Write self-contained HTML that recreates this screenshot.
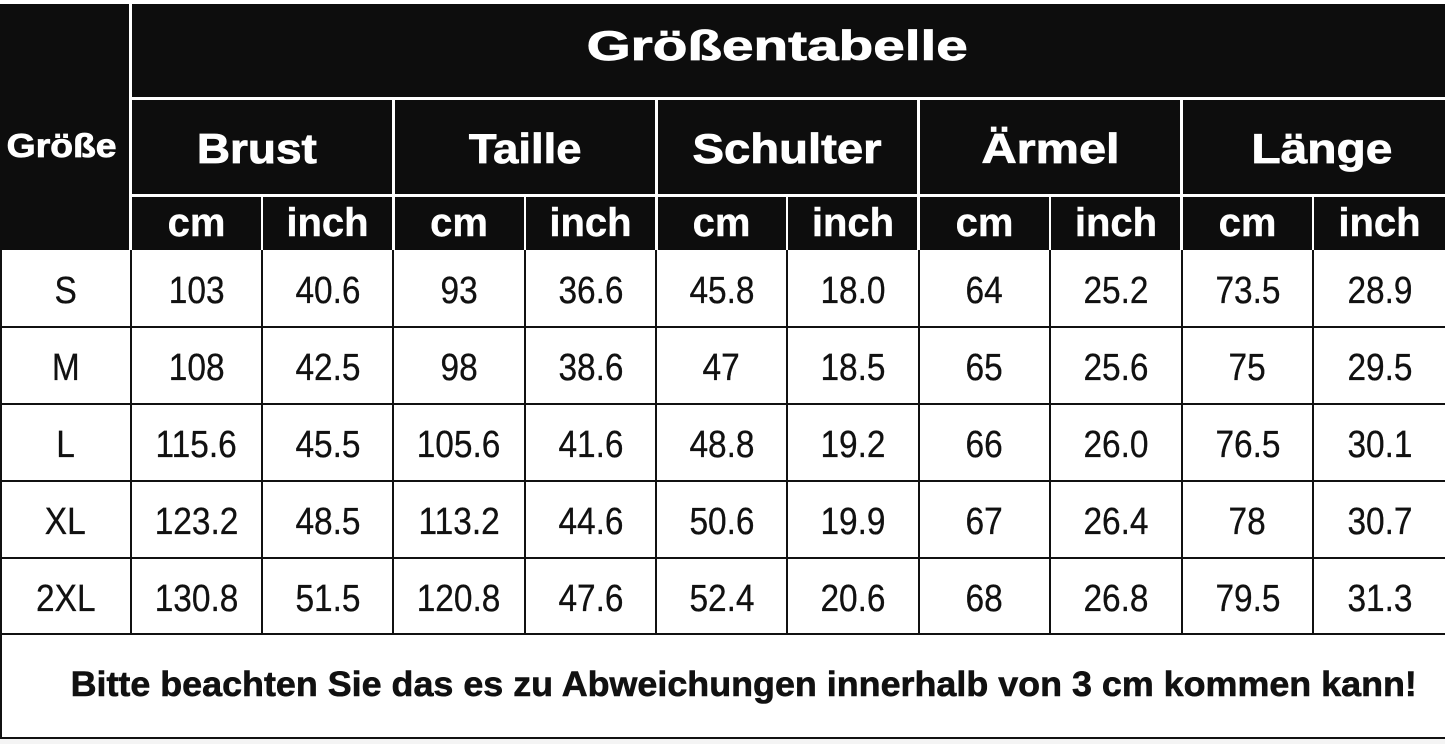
<!DOCTYPE html>
<html>
<head>
<meta charset="utf-8">
<style>
html,body{margin:0;padding:0;}
body{width:1445px;height:744px;position:relative;overflow:hidden;background:#fff;font-family:"Liberation Sans",Arial,sans-serif;}
.a{position:absolute;}
.blk{background:#0d0d0d;}
.wl{background:#fff;}
.bl{background:#111;}
.h{position:absolute;color:#fff;font-weight:bold;text-align:center;white-space:nowrap;-webkit-text-stroke:0.8px #fff;}
.h span{display:inline-block;}
.d{position:absolute;color:#111;font-size:38px;line-height:38px;height:38px;text-align:center;white-space:nowrap;-webkit-text-stroke:0.3px #111;}
.d span{display:inline-block;transform:scaleX(0.88);}
.u{position:absolute;color:#fff;font-weight:bold;font-size:40px;line-height:40px;height:40px;text-align:center;top:203px;white-space:nowrap;-webkit-text-stroke:0.4px #fff;}
.r0{top:272px}.r1{top:349px}.r2{top:426px}.r3{top:503px}.r4{top:580px}
.c0{left:1px;width:129px}.c1{left:132px;width:129px}.c2{left:263px;width:129px}.c3{left:394px;width:130px}.c4{left:526px;width:129px}.c5{left:657px;width:129px}.c6{left:788px;width:130px}.c7{left:920px;width:129px}.c8{left:1051px;width:130px}.c9{left:1183px;width:129px}.c10{left:1314px;width:131px}
</style>
</head>
<body>
<!-- header black block -->
<div class="a blk" style="left:0;top:4px;width:1445px;height:246px;"></div>
<!-- white separators in header -->
<div class="a wl" style="left:129px;top:4px;width:3px;height:246px;"></div>
<div class="a wl" style="left:132px;top:97px;width:1313px;height:3px;"></div>
<div class="a wl" style="left:132px;top:194px;width:1313px;height:3px;"></div>
<div class="a wl" style="left:392px;top:100px;width:3px;height:150px;"></div>
<div class="a wl" style="left:655px;top:100px;width:3px;height:150px;"></div>
<div class="a wl" style="left:917px;top:100px;width:3px;height:150px;"></div>
<div class="a wl" style="left:1180px;top:100px;width:3px;height:150px;"></div>
<div class="a wl" style="left:261px;top:197px;width:2px;height:53px;"></div>
<div class="a wl" style="left:524px;top:197px;width:2px;height:53px;"></div>
<div class="a wl" style="left:786px;top:197px;width:2px;height:53px;"></div>
<div class="a wl" style="left:1049px;top:197px;width:2px;height:53px;"></div>
<div class="a wl" style="left:1312px;top:197px;width:2px;height:53px;"></div>

<!-- data grid lines -->
<div class="a bl" style="left:0;top:326px;width:1445px;height:2px;"></div>
<div class="a bl" style="left:0;top:403px;width:1445px;height:2px;"></div>
<div class="a bl" style="left:0;top:480px;width:1445px;height:2px;"></div>
<div class="a bl" style="left:0;top:557px;width:1445px;height:2px;"></div>
<div class="a bl" style="left:0;top:633px;width:1445px;height:2px;"></div>
<div class="a bl" style="left:0;top:737px;width:1445px;height:2px;"></div>
<div class="a" style="left:0;top:739px;width:1445px;height:5px;background:#f4f4f4;"></div>
<div class="a bl" style="left:0;top:250px;width:2px;height:489px;"></div>
<div class="a bl" style="left:130px;top:250px;width:2px;height:385px;"></div>
<div class="a bl" style="left:261px;top:250px;width:2px;height:385px;"></div>
<div class="a bl" style="left:392px;top:250px;width:2px;height:385px;"></div>
<div class="a bl" style="left:524px;top:250px;width:2px;height:385px;"></div>
<div class="a bl" style="left:655px;top:250px;width:2px;height:385px;"></div>
<div class="a bl" style="left:786px;top:250px;width:2px;height:385px;"></div>
<div class="a bl" style="left:918px;top:250px;width:2px;height:385px;"></div>
<div class="a bl" style="left:1049px;top:250px;width:2px;height:385px;"></div>
<div class="a bl" style="left:1181px;top:250px;width:2px;height:385px;"></div>
<div class="a bl" style="left:1312px;top:250px;width:2px;height:385px;"></div>

<!-- header texts -->
<div class="h" style="left:577px;width:400px;top:25px;font-size:42px;line-height:42px;height:42px;"><span style="transform:scaleX(1.35)">Größentabelle</span></div>
<div class="h" style="left:-138px;width:400px;top:129px;font-size:33px;line-height:33px;height:33px;"><span style="transform:scaleX(1.13)">Größe</span></div>
<div class="h" style="left:57px;width:400px;top:128px;font-size:42px;line-height:42px;height:42px;"><span style="transform:scaleX(1.094)">Brust</span></div>
<div class="h" style="left:325px;width:400px;top:128px;font-size:42px;line-height:42px;height:42px;"><span style="transform:scaleX(1.08)">Taille</span></div>
<div class="h" style="left:587px;width:400px;top:128px;font-size:42px;line-height:42px;height:42px;"><span style="transform:scaleX(1.125)">Schulter</span></div>
<div class="h" style="left:851px;width:400px;top:128px;font-size:42px;line-height:42px;height:42px;"><span style="transform:scaleX(1.16)">Ärmel</span></div>
<div class="h" style="left:1122px;width:400px;top:128px;font-size:42px;line-height:42px;height:42px;"><span style="transform:scaleX(1.14)">Länge</span></div>

<!-- unit row -->
<div class="u c1">cm</div><div class="u c2">inch</div>
<div class="u c3">cm</div><div class="u c4">inch</div>
<div class="u c5">cm</div><div class="u c6">inch</div>
<div class="u c7">cm</div><div class="u c8">inch</div>
<div class="u c9">cm</div><div class="u c10">inch</div>

<!-- row S -->
<div class="d r0 c0"><span>S</span></div>
<div class="d r0 c1"><span>103</span></div>
<div class="d r0 c2"><span>40.6</span></div>
<div class="d r0 c3"><span>93</span></div>
<div class="d r0 c4"><span>36.6</span></div>
<div class="d r0 c5"><span>45.8</span></div>
<div class="d r0 c6"><span>18.0</span></div>
<div class="d r0 c7"><span>64</span></div>
<div class="d r0 c8"><span>25.2</span></div>
<div class="d r0 c9"><span>73.5</span></div>
<div class="d r0 c10"><span>28.9</span></div>
<!-- row M -->
<div class="d r1 c0"><span>M</span></div>
<div class="d r1 c1"><span>108</span></div>
<div class="d r1 c2"><span>42.5</span></div>
<div class="d r1 c3"><span>98</span></div>
<div class="d r1 c4"><span>38.6</span></div>
<div class="d r1 c5"><span>47</span></div>
<div class="d r1 c6"><span>18.5</span></div>
<div class="d r1 c7"><span>65</span></div>
<div class="d r1 c8"><span>25.6</span></div>
<div class="d r1 c9"><span>75</span></div>
<div class="d r1 c10"><span>29.5</span></div>
<!-- row L -->
<div class="d r2 c0"><span>L</span></div>
<div class="d r2 c1"><span>115.6</span></div>
<div class="d r2 c2"><span>45.5</span></div>
<div class="d r2 c3"><span>105.6</span></div>
<div class="d r2 c4"><span>41.6</span></div>
<div class="d r2 c5"><span>48.8</span></div>
<div class="d r2 c6"><span>19.2</span></div>
<div class="d r2 c7"><span>66</span></div>
<div class="d r2 c8"><span>26.0</span></div>
<div class="d r2 c9"><span>76.5</span></div>
<div class="d r2 c10"><span>30.1</span></div>
<!-- row XL -->
<div class="d r3 c0"><span>XL</span></div>
<div class="d r3 c1"><span>123.2</span></div>
<div class="d r3 c2"><span>48.5</span></div>
<div class="d r3 c3"><span>113.2</span></div>
<div class="d r3 c4"><span>44.6</span></div>
<div class="d r3 c5"><span>50.6</span></div>
<div class="d r3 c6"><span>19.9</span></div>
<div class="d r3 c7"><span>67</span></div>
<div class="d r3 c8"><span>26.4</span></div>
<div class="d r3 c9"><span>78</span></div>
<div class="d r3 c10"><span>30.7</span></div>
<!-- row 2XL -->
<div class="d r4 c0"><span>2XL</span></div>
<div class="d r4 c1"><span>130.8</span></div>
<div class="d r4 c2"><span>51.5</span></div>
<div class="d r4 c3"><span>120.8</span></div>
<div class="d r4 c4"><span>47.6</span></div>
<div class="d r4 c5"><span>52.4</span></div>
<div class="d r4 c6"><span>20.6</span></div>
<div class="d r4 c7"><span>68</span></div>
<div class="d r4 c8"><span>26.8</span></div>
<div class="d r4 c9"><span>79.5</span></div>
<div class="d r4 c10"><span>31.3</span></div>

<!-- footer -->
<div class="a" style="left:44px;width:1400px;top:667px;font-size:35px;line-height:35px;height:35px;font-weight:bold;color:#111;text-align:center;white-space:nowrap;-webkit-text-stroke:0.6px #111;"><span style="display:inline-block;transform:scaleX(1.025)">Bitte beachten Sie das es zu Abweichungen innerhalb von 3 cm kommen kann!</span></div>
</body>
</html>
